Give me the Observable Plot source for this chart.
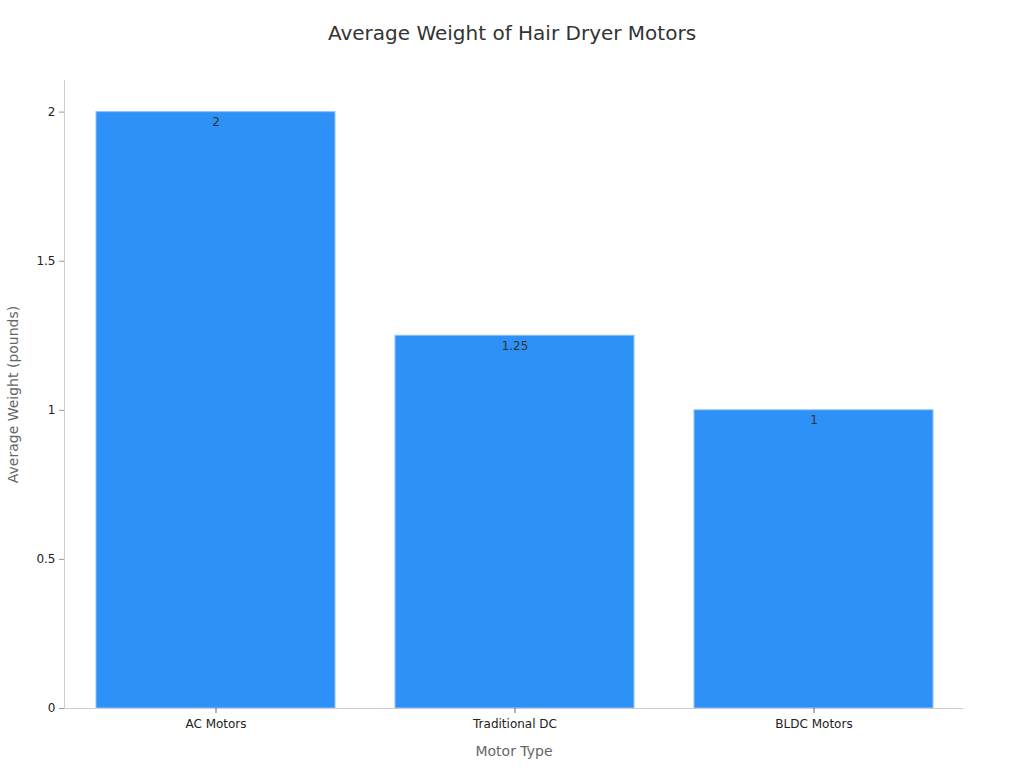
<!DOCTYPE html>
<html>
<head>
<meta charset="utf-8">
<script src="https://cdn.jsdelivr.net/npm/d3@7"></script>
<script src="https://cdn.jsdelivr.net/npm/@observablehq/plot@0.6"></script>
<style>
  body { margin: 0; background: #fff; font-family: "DejaVu Sans", sans-serif; }
  #title { height: 66px; line-height: 66px; text-align: center; font-size: 20px; color: #333; width: 1024px; }
</style>
</head>
<body>
<div id="title">Average Weight of Hair Dryer Motors</div>
<div id="chart"></div>
<script>
const categories = ["AC Motors", "Traditional DC", "BLDC Motors"];
const weights = [2, 1.25, 1];
const yTicks = [0, 0.5, 1, 1.5, 2];

const data = categories.map((c, i) => ({ type: c, weight: weights[i] }));

const plot = Plot.plot({
  width: 1024,
  height: 702,
  marginTop: 14,
  marginBottom: 60,
  marginLeft: 64,
  marginRight: 61,
  style: { fontFamily: "DejaVu Sans, sans-serif", fontSize: "12px", color: "#333", background: "#fff" },
  x: { domain: categories, paddingInner: 0.2, paddingOuter: 0.1, range: [65.5, 964.5], label: null },
  y: { domain: [0, 2.106], label: null },
  marks: [
    Plot.barY(data, { x: "type", y: "weight", fill: "#2e91f8", stroke: "#8cc3fb", strokeWidth: 1 }),
    Plot.text(data, { x: "type", y: "weight", text: d => String(d.weight), dy: 10, fill: "#333", fontSize: 12 }),
    Plot.frame({ anchor: "left", stroke: "#ccc" }),
    Plot.ruleY([0], { stroke: "#ccc" }),
    Plot.axisY(yTicks, { ticks: yTicks, tickFormat: d => String(d), tickSize: 5, tickPadding: 4, stroke: "#999", fill: "#222", fontSize: 12, label: null }),
    Plot.axisX({ tickSize: 5, tickPadding: 6, stroke: "#666", fill: "#222", fontSize: 12, label: null }),
    Plot.text(["Motor Type"], { frameAnchor: "bottom", dy: 47, fill: "#666", fontSize: 14 }),
    Plot.text(["Average Weight (pounds)"], { frameAnchor: "left", textAnchor: "middle", dx: -51, rotate: -90, fill: "#666", fontSize: 14 })
  ]
});
document.getElementById("chart").appendChild(plot);
</script>
</body>
</html>
